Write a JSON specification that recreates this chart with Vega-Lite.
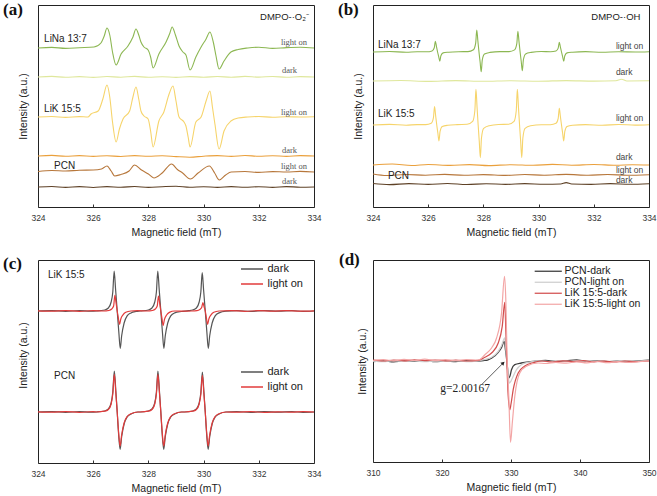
{
  "$schema": "https://vega.github.io/schema/vega-lite/v6.json",
  "background": "white",
  "padding": {"left": 2, "top": 0, "right": 2, "bottom": 2},
  "columns": 2,
  "bounds": "flush",
  "spacing": {"row": 53, "column": 59},
  "resolve": {"scale": {"color": "independent", "strokeWidth": "independent"}, "legend": {"color": "independent"}},
  "config": {
    "font": "Liberation Sans",
    "view": {"stroke": "#222", "strokeWidth": 1},
    "title": {"font": "Liberation Serif", "fontSize": 17, "fontWeight": "bold", "anchor": "start", "frame": "group", "offset": 0, "baseline": "alphabetic", "color": "#111"},
    "axisX": {"domain": false, "grid": false, "tickSize": -3, "tickColor": "#333", "labelPadding": 9, "labelFontSize": 8.5, "labelColor": "#333", "labelFlush": false, "labelOverlap": false, "titleFontSize": 10.5, "titleFontWeight": "normal", "titleColor": "#222", "titlePadding": 6, "labelFont": "Liberation Sans", "titleFont": "Liberation Sans"},
    "axisY": {"domain": false, "grid": false, "ticks": false, "labels": false, "titleFontSize": 10.5, "titleFontWeight": "normal", "titleColor": "#222", "titlePadding": 10, "titleFont": "Liberation Sans"},
    "legend": {"labelFont": "Liberation Sans", "labelColor": "#222"}
  },
  "datasets": {
    "a": [
      {"s":"LiNa on","x":324,"y":159},{"s":"LiNa on","x":324.5,"y":159.6},{"s":"LiNa on","x":325,"y":158.6},{"s":"LiNa on","x":325.5,"y":159.3},{"s":"LiNa on","x":326.03,"y":160},{"s":"LiNa on","x":326.28,"y":164},{"s":"LiNa on","x":326.4,"y":171},{"s":"LiNa on","x":326.5,"y":179},{"s":"LiNa on","x":326.6,"y":172},{"s":"LiNa on","x":326.7,"y":155},{"s":"LiNa on","x":326.83,"y":142},{"s":"LiNa on","x":327.01,"y":153},{"s":"LiNa on","x":327.26,"y":161},{"s":"LiNa on","x":327.44,"y":170},{"s":"LiNa on","x":327.55,"y":178},{"s":"LiNa on","x":327.65,"y":172},{"s":"LiNa on","x":327.73,"y":165},{"s":"LiNa on","x":327.84,"y":160},{"s":"LiNa on","x":327.99,"y":157},{"s":"LiNa on","x":328.08,"y":150},{"s":"LiNa on","x":328.17,"y":139},{"s":"LiNa on","x":328.38,"y":153},{"s":"LiNa on","x":328.64,"y":165},{"s":"LiNa on","x":328.78,"y":174},{"s":"LiNa on","x":328.86,"y":180},{"s":"LiNa on","x":328.98,"y":172},{"s":"LiNa on","x":329.11,"y":161},{"s":"LiNa on","x":329.25,"y":155},{"s":"LiNa on","x":329.36,"y":152},{"s":"LiNa on","x":329.51,"y":137},{"s":"LiNa on","x":329.72,"y":150},{"s":"LiNa on","x":329.91,"y":160},{"s":"LiNa on","x":330.09,"y":168},{"s":"LiNa on","x":330.23,"y":175},{"s":"LiNa on","x":330.35,"y":165},{"s":"LiNa on","x":330.45,"y":151},{"s":"LiNa on","x":330.56,"y":138},{"s":"LiNa on","x":330.74,"y":146},{"s":"LiNa on","x":330.99,"y":155},{"s":"LiNa on","x":331.25,"y":157.5},{"s":"LiNa on","x":331.6,"y":159},{"s":"LiNa on","x":332,"y":159.8},{"s":"LiNa on","x":332.5,"y":158.6},{"s":"LiNa on","x":333,"y":159.4},{"s":"LiNa on","x":333.5,"y":159.8},{"s":"LiNa on","x":334,"y":159},
      {"s":"LiNa dark","x":324,"y":130},{"s":"LiNa dark","x":324.5,"y":130.6},{"s":"LiNa dark","x":325,"y":129.7},{"s":"LiNa dark","x":325.5,"y":130.4},{"s":"LiNa dark","x":326,"y":129.6},{"s":"LiNa dark","x":326.5,"y":130.5},{"s":"LiNa dark","x":327,"y":129.8},{"s":"LiNa dark","x":327.5,"y":130.6},{"s":"LiNa dark","x":328,"y":129.7},{"s":"LiNa dark","x":328.5,"y":130.3},{"s":"LiNa dark","x":329,"y":129.6},{"s":"LiNa dark","x":329.5,"y":130.4},{"s":"LiNa dark","x":330,"y":129.8},{"s":"LiNa dark","x":330.5,"y":130.5},{"s":"LiNa dark","x":331,"y":129.7},{"s":"LiNa dark","x":331.5,"y":130.6},{"s":"LiNa dark","x":332,"y":129.9},{"s":"LiNa dark","x":332.5,"y":130.5},{"s":"LiNa dark","x":333,"y":129.7},{"s":"LiNa dark","x":333.5,"y":130.4},{"s":"LiNa dark","x":334,"y":130},
      {"s":"LiK on","x":324,"y":90},{"s":"LiK on","x":324.5,"y":90.5},{"s":"LiK on","x":325,"y":89.6},{"s":"LiK on","x":325.5,"y":90.4},{"s":"LiK on","x":325.81,"y":90},{"s":"LiK on","x":325.92,"y":93},{"s":"LiK on","x":326.18,"y":96},{"s":"LiK on","x":326.35,"y":108},{"s":"LiK on","x":326.5,"y":122},{"s":"LiK on","x":326.6,"y":110},{"s":"LiK on","x":326.7,"y":85},{"s":"LiK on","x":326.83,"y":65},{"s":"LiK on","x":326.95,"y":78},{"s":"LiK on","x":327.08,"y":88},{"s":"LiK on","x":327.32,"y":96},{"s":"LiK on","x":327.44,"y":110},{"s":"LiK on","x":327.55,"y":120},{"s":"LiK on","x":327.65,"y":108},{"s":"LiK on","x":327.73,"y":96},{"s":"LiK on","x":327.84,"y":91},{"s":"LiK on","x":327.99,"y":88},{"s":"LiK on","x":328.08,"y":76},{"s":"LiK on","x":328.17,"y":60},{"s":"LiK on","x":328.38,"y":86},{"s":"LiK on","x":328.56,"y":95},{"s":"LiK on","x":328.75,"y":113},{"s":"LiK on","x":328.89,"y":121},{"s":"LiK on","x":329.0,"y":106},{"s":"LiK on","x":329.11,"y":90},{"s":"LiK on","x":329.29,"y":85},{"s":"LiK on","x":329.36,"y":81},{"s":"LiK on","x":329.44,"y":70},{"s":"LiK on","x":329.51,"y":60},{"s":"LiK on","x":329.72,"y":85},{"s":"LiK on","x":329.91,"y":90},{"s":"LiK on","x":330.09,"y":106},{"s":"LiK on","x":330.23,"y":116},{"s":"LiK on","x":330.32,"y":100},{"s":"LiK on","x":330.41,"y":83},{"s":"LiK on","x":330.56,"y":58},{"s":"LiK on","x":330.74,"y":76},{"s":"LiK on","x":330.99,"y":86},{"s":"LiK on","x":331.25,"y":89},{"s":"LiK on","x":331.6,"y":90},{"s":"LiK on","x":332,"y":90.5},{"s":"LiK on","x":332.5,"y":89.7},{"s":"LiK on","x":333,"y":90.3},{"s":"LiK on","x":333.5,"y":90},{"s":"LiK on","x":334,"y":90.2},
      {"s":"LiK dark","x":324,"y":51},{"s":"LiK dark","x":324.5,"y":51.6},{"s":"LiK dark","x":325,"y":50.7},{"s":"LiK dark","x":325.5,"y":51.4},{"s":"LiK dark","x":326,"y":50.6},{"s":"LiK dark","x":326.5,"y":51.3},{"s":"LiK dark","x":327,"y":50.5},{"s":"LiK dark","x":327.5,"y":51.4},{"s":"LiK dark","x":328,"y":50.7},{"s":"LiK dark","x":328.5,"y":51.2},{"s":"LiK dark","x":329,"y":50.4},{"s":"LiK dark","x":329.5,"y":49.8},{"s":"LiK dark","x":330,"y":50.8},{"s":"LiK dark","x":330.5,"y":51.4},{"s":"LiK dark","x":331,"y":50.6},{"s":"LiK dark","x":331.5,"y":51.5},{"s":"LiK dark","x":332,"y":50.7},{"s":"LiK dark","x":332.5,"y":51.3},{"s":"LiK dark","x":333,"y":50.6},{"s":"LiK dark","x":333.5,"y":51.4},{"s":"LiK dark","x":334,"y":51},
      {"s":"PCN on","x":324,"y":35.5},{"s":"PCN on","x":324.5,"y":36.5},{"s":"PCN on","x":325,"y":36},{"s":"PCN on","x":325.5,"y":36.8},{"s":"PCN on","x":326,"y":37},{"s":"PCN on","x":326.3,"y":38},{"s":"PCN on","x":326.5,"y":41},{"s":"PCN on","x":326.65,"y":36},{"s":"PCN on","x":326.78,"y":31},{"s":"PCN on","x":327.0,"y":32.5},{"s":"PCN on","x":327.3,"y":36},{"s":"PCN on","x":327.5,"y":42},{"s":"PCN on","x":327.75,"y":37},{"s":"PCN on","x":328.0,"y":33},{"s":"PCN on","x":328.2,"y":29},{"s":"PCN on","x":328.5,"y":34},{"s":"PCN on","x":328.84,"y":43},{"s":"PCN on","x":329.05,"y":37.5},{"s":"PCN on","x":329.24,"y":34},{"s":"PCN on","x":329.52,"y":28},{"s":"PCN on","x":329.8,"y":34},{"s":"PCN on","x":330.21,"y":41},{"s":"PCN on","x":330.4,"y":34},{"s":"PCN on","x":330.57,"y":27},{"s":"PCN on","x":330.8,"y":32},{"s":"PCN on","x":331.0,"y":35},{"s":"PCN on","x":331.5,"y":35.5},{"s":"PCN on","x":332,"y":34.6},{"s":"PCN on","x":332.5,"y":35.4},{"s":"PCN on","x":333,"y":35},{"s":"PCN on","x":333.5,"y":35.6},{"s":"PCN on","x":334,"y":35},
      {"s":"PCN dark","x":324,"y":20},{"s":"PCN dark","x":324.5,"y":20.5},{"s":"PCN dark","x":325,"y":19.6},{"s":"PCN dark","x":325.5,"y":20.4},{"s":"PCN dark","x":326,"y":19.5},{"s":"PCN dark","x":326.5,"y":20.4},{"s":"PCN dark","x":327,"y":19.7},{"s":"PCN dark","x":327.5,"y":20.5},{"s":"PCN dark","x":328,"y":19.6},{"s":"PCN dark","x":328.5,"y":20.3},{"s":"PCN dark","x":329,"y":20.8},{"s":"PCN dark","x":329.5,"y":19.8},{"s":"PCN dark","x":330,"y":20.3},{"s":"PCN dark","x":330.5,"y":19.6},{"s":"PCN dark","x":331,"y":20.4},{"s":"PCN dark","x":331.5,"y":19.7},{"s":"PCN dark","x":332,"y":20.3},{"s":"PCN dark","x":332.5,"y":19.6},{"s":"PCN dark","x":333,"y":20.4},{"s":"PCN dark","x":333.5,"y":19.8},{"s":"PCN dark","x":334,"y":20}
    ],
    "b": [
      {"s":"LiNa on","x":324,"y":155},{"s":"LiNa on","x":324.6,"y":155.5},{"s":"LiNa on","x":325.2,"y":154.7},{"s":"LiNa on","x":325.6,"y":155.3},{"s":"LiNa on","x":325.94,"y":155.2},{"s":"LiNa on","x":326.14,"y":156.1},{"s":"LiNa on","x":326.22,"y":159.3},{"s":"LiNa on","x":326.26,"y":165.7},{"s":"LiNa on","x":326.30,"y":160.4},{"s":"LiNa on","x":326.34,"y":155},{"s":"LiNa on","x":326.38,"y":150.4},{"s":"LiNa on","x":326.42,"y":145.7},{"s":"LiNa on","x":326.46,"y":151.3},{"s":"LiNa on","x":326.54,"y":154.1},{"s":"LiNa on","x":326.74,"y":154.8},{"s":"LiNa on","x":327.1,"y":155.3},{"s":"LiNa on","x":327.44,"y":155.4},{"s":"LiNa on","x":327.64,"y":157.2},{"s":"LiNa on","x":327.72,"y":163.8},{"s":"LiNa on","x":327.76,"y":177},{"s":"LiNa on","x":327.80,"y":166},{"s":"LiNa on","x":327.84,"y":155},{"s":"LiNa on","x":327.88,"y":145.2},{"s":"LiNa on","x":327.92,"y":135.3},{"s":"LiNa on","x":327.96,"y":147.1},{"s":"LiNa on","x":328.04,"y":153},{"s":"LiNa on","x":328.24,"y":154.6},{"s":"LiNa on","x":328.6,"y":155.4},{"s":"LiNa on","x":328.93,"y":155.4},{"s":"LiNa on","x":329.13,"y":157.1},{"s":"LiNa on","x":329.21,"y":163.3},{"s":"LiNa on","x":329.25,"y":175.7},{"s":"LiNa on","x":329.29,"y":165.4},{"s":"LiNa on","x":329.33,"y":155},{"s":"LiNa on","x":329.37,"y":145.7},{"s":"LiNa on","x":329.41,"y":136.3},{"s":"LiNa on","x":329.45,"y":147.5},{"s":"LiNa on","x":329.53,"y":153.1},{"s":"LiNa on","x":329.73,"y":154.6},{"s":"LiNa on","x":330.1,"y":155.5},{"s":"LiNa on","x":330.43,"y":155.2},{"s":"LiNa on","x":330.63,"y":156},{"s":"LiNa on","x":330.71,"y":158.9},{"s":"LiNa on","x":330.75,"y":164.7},{"s":"LiNa on","x":330.79,"y":159.9},{"s":"LiNa on","x":330.83,"y":155},{"s":"LiNa on","x":330.87,"y":150.4},{"s":"LiNa on","x":330.91,"y":145.7},{"s":"LiNa on","x":330.95,"y":151.3},{"s":"LiNa on","x":331.03,"y":154.1},{"s":"LiNa on","x":331.23,"y":154.8},{"s":"LiNa on","x":331.7,"y":155.4},{"s":"LiNa on","x":332.3,"y":154.7},{"s":"LiNa on","x":332.9,"y":155.3},{"s":"LiNa on","x":333.5,"y":155},{"s":"LiNa on","x":334,"y":155.3},
      {"s":"LiNa dark","x":324,"y":126},{"s":"LiNa dark","x":325,"y":126.5},{"s":"LiNa dark","x":326,"y":125.6},{"s":"LiNa dark","x":327,"y":126.4},{"s":"LiNa dark","x":328,"y":125.7},{"s":"LiNa dark","x":329,"y":126.3},{"s":"LiNa dark","x":330,"y":125.8},{"s":"LiNa dark","x":331,"y":126.4},{"s":"LiNa dark","x":332,"y":125.9},{"s":"LiNa dark","x":332.8,"y":126.3},{"s":"LiNa dark","x":333,"y":127.8},{"s":"LiNa dark","x":333.2,"y":126},{"s":"LiNa dark","x":334,"y":126.2},
      {"s":"LiK on","x":324,"y":82},{"s":"LiK on","x":324.6,"y":82.6},{"s":"LiK on","x":325.2,"y":81.8},{"s":"LiK on","x":325.6,"y":82.4},{"s":"LiK on","x":325.91,"y":82.4},{"s":"LiK on","x":326.11,"y":83.8},{"s":"LiK on","x":326.19,"y":89.4},{"s":"LiK on","x":326.23,"y":100.4},{"s":"LiK on","x":326.27,"y":91.2},{"s":"LiK on","x":326.31,"y":82},{"s":"LiK on","x":326.35,"y":74},{"s":"LiK on","x":326.39,"y":66},{"s":"LiK on","x":326.43,"y":75.6},{"s":"LiK on","x":326.51,"y":80.4},{"s":"LiK on","x":326.71,"y":81.7},{"s":"LiK on","x":327.05,"y":82.4},{"s":"LiK on","x":327.41,"y":82.7},{"s":"LiK on","x":327.61,"y":85.6},{"s":"LiK on","x":327.69,"y":96.3},{"s":"LiK on","x":327.73,"y":117.7},{"s":"LiK on","x":327.77,"y":99.9},{"s":"LiK on","x":327.81,"y":82},{"s":"LiK on","x":327.85,"y":65.7},{"s":"LiK on","x":327.89,"y":49.4},{"s":"LiK on","x":327.93,"y":69},{"s":"LiK on","x":328.01,"y":78.7},{"s":"LiK on","x":328.21,"y":81.3},{"s":"LiK on","x":328.55,"y":82.5},{"s":"LiK on","x":328.91,"y":82.7},{"s":"LiK on","x":329.11,"y":85.6},{"s":"LiK on","x":329.19,"y":96.3},{"s":"LiK on","x":329.23,"y":117.7},{"s":"LiK on","x":329.27,"y":99.9},{"s":"LiK on","x":329.31,"y":82},{"s":"LiK on","x":329.35,"y":65.7},{"s":"LiK on","x":329.39,"y":49.4},{"s":"LiK on","x":329.43,"y":69},{"s":"LiK on","x":329.51,"y":78.7},{"s":"LiK on","x":329.71,"y":81.3},{"s":"LiK on","x":330.1,"y":82.3},{"s":"LiK on","x":330.43,"y":82.3},{"s":"LiK on","x":330.63,"y":83.7},{"s":"LiK on","x":330.71,"y":88.7},{"s":"LiK on","x":330.75,"y":98.7},{"s":"LiK on","x":330.79,"y":90.4},{"s":"LiK on","x":330.83,"y":82},{"s":"LiK on","x":330.87,"y":74},{"s":"LiK on","x":330.91,"y":66},{"s":"LiK on","x":330.95,"y":75.6},{"s":"LiK on","x":331.03,"y":80.4},{"s":"LiK on","x":331.23,"y":81.7},{"s":"LiK on","x":331.7,"y":82.4},{"s":"LiK on","x":332.3,"y":81.7},{"s":"LiK on","x":332.9,"y":82.5},{"s":"LiK on","x":333.5,"y":81.9},{"s":"LiK on","x":334,"y":82.3},
      {"s":"LiK dark","x":324,"y":42},{"s":"LiK dark","x":324.7,"y":43},{"s":"LiK dark","x":325.4,"y":41.5},{"s":"LiK dark","x":326,"y":42.5},{"s":"LiK dark","x":326.8,"y":41.6},{"s":"LiK dark","x":327.5,"y":42.4},{"s":"LiK dark","x":328.2,"y":41.4},{"s":"LiK dark","x":329,"y":42.3},{"s":"LiK dark","x":329.8,"y":41.7},{"s":"LiK dark","x":330.5,"y":42.6},{"s":"LiK dark","x":331.2,"y":41.8},{"s":"LiK dark","x":332,"y":42.5},{"s":"LiK dark","x":332.8,"y":41.7},{"s":"LiK dark","x":333.4,"y":42.3},{"s":"LiK dark","x":334,"y":42},
      {"s":"PCN on","x":324,"y":33},{"s":"PCN on","x":324.5,"y":31.5},{"s":"PCN on","x":325.2,"y":32.5},{"s":"PCN on","x":325.9,"y":31.8},{"s":"PCN on","x":326.6,"y":32.6},{"s":"PCN on","x":327.3,"y":31.7},{"s":"PCN on","x":328,"y":32.4},{"s":"PCN on","x":328.8,"y":31.6},{"s":"PCN on","x":329.5,"y":32.5},{"s":"PCN on","x":330.2,"y":31.8},{"s":"PCN on","x":331,"y":32.6},{"s":"PCN on","x":331.8,"y":31.7},{"s":"PCN on","x":332.5,"y":32.5},{"s":"PCN on","x":333.2,"y":31.8},{"s":"PCN on","x":334,"y":32.3},
      {"s":"PCN dark","x":324,"y":23.5},{"s":"PCN dark","x":324.6,"y":22.4},{"s":"PCN dark","x":325.3,"y":23.4},{"s":"PCN dark","x":326,"y":22.6},{"s":"PCN dark","x":326.7,"y":23.5},{"s":"PCN dark","x":327.4,"y":22.5},{"s":"PCN dark","x":328.1,"y":23.3},{"s":"PCN dark","x":328.8,"y":22.6},{"s":"PCN dark","x":329.5,"y":23.4},{"s":"PCN dark","x":330.2,"y":22.7},{"s":"PCN dark","x":330.8,"y":23},{"s":"PCN dark","x":331,"y":24.4},{"s":"PCN dark","x":331.2,"y":23},{"s":"PCN dark","x":331.9,"y":22.6},{"s":"PCN dark","x":332.6,"y":23.4},{"s":"PCN dark","x":333.3,"y":22.7},{"s":"PCN dark","x":334,"y":23.2}
    ],
    "cu": [
      {"s":"dark","x":324,"y":152},{"s":"dark","x":324.5,"y":152.4},{"s":"dark","x":325,"y":151.7},{"s":"dark","x":325.5,"y":152.3},{"s":"dark","x":325.9,"y":151.8},
      {"s":"dark","x":326.12,"y":152},{"s":"dark","x":326.42,"y":153},{"s":"dark","x":326.55,"y":155},{"s":"dark","x":326.65,"y":161},{"s":"dark","x":326.71,"y":171},{"s":"dark","x":326.76,"y":192},{"s":"dark","x":326.81,"y":174},{"s":"dark","x":326.87,"y":152},{"s":"dark","x":326.93,"y":130.3},{"s":"dark","x":326.98,"y":114.6},{"s":"dark","x":327.03,"y":127},{"s":"dark","x":327.12,"y":140},{"s":"dark","x":327.23,"y":147.1},{"s":"dark","x":327.37,"y":150.1},{"s":"dark","x":327.55,"y":151.5},
      {"s":"dark","x":327.70,"y":152},{"s":"dark","x":328.0,"y":153},{"s":"dark","x":328.13,"y":155},{"s":"dark","x":328.23,"y":161},{"s":"dark","x":328.29,"y":171},{"s":"dark","x":328.34,"y":192},{"s":"dark","x":328.39,"y":174},{"s":"dark","x":328.45,"y":152},{"s":"dark","x":328.51,"y":130.3},{"s":"dark","x":328.56,"y":114.6},{"s":"dark","x":328.61,"y":127},{"s":"dark","x":328.70,"y":140},{"s":"dark","x":328.81,"y":147.1},{"s":"dark","x":328.95,"y":150.1},{"s":"dark","x":329.2,"y":151.5},
      {"s":"dark","x":329.45,"y":152.3},{"s":"dark","x":329.6,"y":153},{"s":"dark","x":329.74,"y":155},{"s":"dark","x":329.84,"y":161},{"s":"dark","x":329.90,"y":171},{"s":"dark","x":329.95,"y":190.3},{"s":"dark","x":330.0,"y":173},{"s":"dark","x":330.06,"y":152},{"s":"dark","x":330.12,"y":130.3},{"s":"dark","x":330.17,"y":114.6},{"s":"dark","x":330.22,"y":127},{"s":"dark","x":330.31,"y":140},{"s":"dark","x":330.42,"y":147.1},{"s":"dark","x":330.56,"y":150.1},{"s":"dark","x":330.81,"y":151.8},
      {"s":"dark","x":331.2,"y":152.3},{"s":"dark","x":331.7,"y":151.7},{"s":"dark","x":332.2,"y":152.4},{"s":"dark","x":332.7,"y":151.8},{"s":"dark","x":333.2,"y":152.3},{"s":"dark","x":333.6,"y":151.7},{"s":"dark","x":334,"y":152},
      {"s":"light on","x":324,"y":152.2},{"s":"light on","x":324.5,"y":151.8},{"s":"light on","x":325,"y":152.4},{"s":"light on","x":325.5,"y":151.7},{"s":"light on","x":326,"y":152.3},
      {"s":"light on","x":326.37,"y":152},{"s":"light on","x":326.57,"y":152.5},{"s":"light on","x":326.67,"y":154},{"s":"light on","x":326.74,"y":157},{"s":"light on","x":326.785,"y":167.6},{"s":"light on","x":326.83,"y":159.8},{"s":"light on","x":326.87,"y":152},{"s":"light on","x":326.91,"y":145.3},{"s":"light on","x":326.955,"y":138.6},{"s":"light on","x":327.0,"y":144},{"s":"light on","x":327.08,"y":148.2},{"s":"light on","x":327.18,"y":150.7},{"s":"light on","x":327.37,"y":152},
      {"s":"light on","x":327.6,"y":152.3},{"s":"light on","x":327.95,"y":152},{"s":"light on","x":328.15,"y":152.5},{"s":"light on","x":328.25,"y":154},{"s":"light on","x":328.32,"y":157},{"s":"light on","x":328.365,"y":167},{"s":"light on","x":328.41,"y":159.5},{"s":"light on","x":328.45,"y":152},{"s":"light on","x":328.49,"y":144.8},{"s":"light on","x":328.535,"y":137.6},{"s":"light on","x":328.58,"y":143.4},{"s":"light on","x":328.66,"y":148},{"s":"light on","x":328.76,"y":150.6},{"s":"light on","x":328.95,"y":152},
      {"s":"light on","x":329.2,"y":151.8},{"s":"light on","x":329.56,"y":152},{"s":"light on","x":329.76,"y":152.4},{"s":"light on","x":329.86,"y":153.5},{"s":"light on","x":329.93,"y":155.5},{"s":"light on","x":329.975,"y":160.3},{"s":"light on","x":330.02,"y":156},{"s":"light on","x":330.06,"y":152},{"s":"light on","x":330.10,"y":145.3},{"s":"light on","x":330.145,"y":138.6},{"s":"light on","x":330.19,"y":144},{"s":"light on","x":330.27,"y":148.2},{"s":"light on","x":330.37,"y":150.7},{"s":"light on","x":330.56,"y":152},
      {"s":"light on","x":331,"y":152.4},{"s":"light on","x":331.5,"y":151.7},{"s":"light on","x":332,"y":152.3},{"s":"light on","x":332.5,"y":151.8},{"s":"light on","x":333,"y":152.4},{"s":"light on","x":333.5,"y":151.8},{"s":"light on","x":334,"y":152.1}
    ],
    "cl": [
      {"s":"dark","x":324,"y":51},{"s":"dark","x":324.5,"y":51.4},{"s":"dark","x":325,"y":50.7},{"s":"dark","x":325.5,"y":51.3},{"s":"dark","x":325.9,"y":50.8},
      {"s":"dark","x":326.12,"y":51},{"s":"dark","x":326.42,"y":52},{"s":"dark","x":326.55,"y":54},{"s":"dark","x":326.65,"y":60},{"s":"dark","x":326.71,"y":71},{"s":"dark","x":326.765,"y":92},{"s":"dark","x":326.82,"y":72},{"s":"dark","x":326.87,"y":51},{"s":"dark","x":326.92,"y":29},{"s":"dark","x":326.975,"y":13.6},{"s":"dark","x":327.03,"y":26},{"s":"dark","x":327.12,"y":39},{"s":"dark","x":327.23,"y":46},{"s":"dark","x":327.37,"y":49},{"s":"dark","x":327.62,"y":51},
      {"s":"dark","x":327.70,"y":51},{"s":"dark","x":328.0,"y":52},{"s":"dark","x":328.13,"y":54},{"s":"dark","x":328.23,"y":60},{"s":"dark","x":328.29,"y":71},{"s":"dark","x":328.345,"y":92},{"s":"dark","x":328.4,"y":72},{"s":"dark","x":328.45,"y":51},{"s":"dark","x":328.5,"y":29},{"s":"dark","x":328.555,"y":13.6},{"s":"dark","x":328.61,"y":26},{"s":"dark","x":328.70,"y":39},{"s":"dark","x":328.81,"y":46},{"s":"dark","x":328.95,"y":49},{"s":"dark","x":329.2,"y":51},
      {"s":"dark","x":329.31,"y":51},{"s":"dark","x":329.61,"y":52},{"s":"dark","x":329.74,"y":54},{"s":"dark","x":329.84,"y":60},{"s":"dark","x":329.90,"y":70.5},{"s":"dark","x":329.955,"y":91},{"s":"dark","x":330.01,"y":71.5},{"s":"dark","x":330.06,"y":51},{"s":"dark","x":330.11,"y":29},{"s":"dark","x":330.165,"y":13.6},{"s":"dark","x":330.22,"y":26},{"s":"dark","x":330.31,"y":39},{"s":"dark","x":330.42,"y":46},{"s":"dark","x":330.56,"y":49},{"s":"dark","x":330.81,"y":51},
      {"s":"dark","x":331.2,"y":51.3},{"s":"dark","x":331.7,"y":50.7},{"s":"dark","x":332.2,"y":51.4},{"s":"dark","x":332.7,"y":50.8},{"s":"dark","x":333.2,"y":51.3},{"s":"dark","x":333.6,"y":50.7},{"s":"dark","x":334,"y":51},
      {"s":"light on","x":324,"y":51.2},{"s":"light on","x":324.5,"y":50.8},{"s":"light on","x":325,"y":51.4},{"s":"light on","x":325.5,"y":50.7},{"s":"light on","x":326,"y":51.3},
      {"s":"light on","x":326.12,"y":51},{"s":"light on","x":326.42,"y":51.8},{"s":"light on","x":326.55,"y":53.5},{"s":"light on","x":326.65,"y":59},{"s":"light on","x":326.71,"y":69},{"s":"light on","x":326.765,"y":88.6},{"s":"light on","x":326.82,"y":70},{"s":"light on","x":326.87,"y":51},{"s":"light on","x":326.92,"y":31},{"s":"light on","x":326.975,"y":17},{"s":"light on","x":327.03,"y":28},{"s":"light on","x":327.12,"y":40},{"s":"light on","x":327.23,"y":46.5},{"s":"light on","x":327.37,"y":49.3},{"s":"light on","x":327.62,"y":51},
      {"s":"light on","x":327.70,"y":51},{"s":"light on","x":328.0,"y":51.8},{"s":"light on","x":328.13,"y":53.5},{"s":"light on","x":328.23,"y":59},{"s":"light on","x":328.29,"y":69},{"s":"light on","x":328.345,"y":88.6},{"s":"light on","x":328.4,"y":70},{"s":"light on","x":328.45,"y":51},{"s":"light on","x":328.5,"y":31},{"s":"light on","x":328.555,"y":17},{"s":"light on","x":328.61,"y":28},{"s":"light on","x":328.70,"y":40},{"s":"light on","x":328.81,"y":46.5},{"s":"light on","x":328.95,"y":49.3},{"s":"light on","x":329.2,"y":51},
      {"s":"light on","x":329.31,"y":51},{"s":"light on","x":329.61,"y":51.8},{"s":"light on","x":329.74,"y":53.5},{"s":"light on","x":329.84,"y":59},{"s":"light on","x":329.90,"y":68.5},{"s":"light on","x":329.955,"y":87.6},{"s":"light on","x":330.01,"y":69.5},{"s":"light on","x":330.06,"y":51},{"s":"light on","x":330.11,"y":31},{"s":"light on","x":330.165,"y":17},{"s":"light on","x":330.22,"y":28},{"s":"light on","x":330.31,"y":40},{"s":"light on","x":330.42,"y":46.5},{"s":"light on","x":330.56,"y":49.3},{"s":"light on","x":330.81,"y":51},
      {"s":"light on","x":331.2,"y":50.8},{"s":"light on","x":331.7,"y":51.3},{"s":"light on","x":332.2,"y":50.7},{"s":"light on","x":332.7,"y":51.2},{"s":"light on","x":333.2,"y":50.8},{"s":"light on","x":333.6,"y":51.3},{"s":"light on","x":334,"y":51}
    ],
    "d": [
      {"s":"PCN-dark","x":310,"y":100.5},{"s":"PCN-dark","x":311.5,"y":101.2},{"s":"PCN-dark","x":313,"y":100.2},{"s":"PCN-dark","x":314.5,"y":101},{"s":"PCN-dark","x":316,"y":100.6},{"s":"PCN-dark","x":317.5,"y":101.4},{"s":"PCN-dark","x":319,"y":100.3},{"s":"PCN-dark","x":320.5,"y":101},{"s":"PCN-dark","x":322,"y":100.5},{"s":"PCN-dark","x":323.5,"y":101.3},{"s":"PCN-dark","x":325,"y":100.8},{"s":"PCN-dark","x":326,"y":101.5},{"s":"PCN-dark","x":326.6,"y":102},{"s":"PCN-dark","x":327.18,"y":103.7},{"s":"PCN-dark","x":328.15,"y":109.7},{"s":"PCN-dark","x":328.6,"y":114},{"s":"PCN-dark","x":329.02,"y":120.7},{"s":"PCN-dark","x":329.2,"y":112},{"s":"PCN-dark","x":329.4,"y":100.7},{"s":"PCN-dark","x":329.55,"y":90},{"s":"PCN-dark","x":329.68,"y":84},{"s":"PCN-dark","x":329.85,"y":86},{"s":"PCN-dark","x":330.07,"y":92.3},{"s":"PCN-dark","x":330.55,"y":97.3},{"s":"PCN-dark","x":331.5,"y":99},{"s":"PCN-dark","x":332.5,"y":100.2},{"s":"PCN-dark","x":333.5,"y":100.8},{"s":"PCN-dark","x":335,"y":101.5},{"s":"PCN-dark","x":336.5,"y":100.6},{"s":"PCN-dark","x":338,"y":101.2},{"s":"PCN-dark","x":339.5,"y":102},{"s":"PCN-dark","x":341,"y":100.6},{"s":"PCN-dark","x":342.5,"y":101.3},{"s":"PCN-dark","x":344,"y":100.4},{"s":"PCN-dark","x":345.5,"y":101},{"s":"PCN-dark","x":347,"y":100.5},{"s":"PCN-dark","x":348.5,"y":101.2},{"s":"PCN-dark","x":350,"y":101.8},
      {"s":"PCN-light on","x":310,"y":101},{"s":"PCN-light on","x":311.5,"y":100.4},{"s":"PCN-light on","x":313,"y":101.4},{"s":"PCN-light on","x":314.5,"y":100.6},{"s":"PCN-light on","x":316,"y":101.2},{"s":"PCN-light on","x":317.5,"y":100.3},{"s":"PCN-light on","x":319,"y":101},{"s":"PCN-light on","x":320.5,"y":100.6},{"s":"PCN-light on","x":322,"y":101.4},{"s":"PCN-light on","x":323.5,"y":100.5},{"s":"PCN-light on","x":325,"y":101},{"s":"PCN-light on","x":326.2,"y":102.5},{"s":"PCN-light on","x":327.18,"y":104.7},{"s":"PCN-light on","x":328.15,"y":110.7},{"s":"PCN-light on","x":328.6,"y":116},{"s":"PCN-light on","x":329.1,"y":124},{"s":"PCN-light on","x":329.25,"y":113},{"s":"PCN-light on","x":329.42,"y":100.7},{"s":"PCN-light on","x":329.58,"y":88},{"s":"PCN-light on","x":329.74,"y":79},{"s":"PCN-light on","x":330,"y":81},{"s":"PCN-light on","x":330.32,"y":85.7},{"s":"PCN-light on","x":330.8,"y":92.3},{"s":"PCN-light on","x":331.5,"y":97.3},{"s":"PCN-light on","x":332.7,"y":100},{"s":"PCN-light on","x":334,"y":101.2},{"s":"PCN-light on","x":335.5,"y":100.4},{"s":"PCN-light on","x":337,"y":101.3},{"s":"PCN-light on","x":338.5,"y":100.7},{"s":"PCN-light on","x":340,"y":101.5},{"s":"PCN-light on","x":341.5,"y":100.5},{"s":"PCN-light on","x":343,"y":101.2},{"s":"PCN-light on","x":344.5,"y":100.6},{"s":"PCN-light on","x":346,"y":101.3},{"s":"PCN-light on","x":347.5,"y":100.5},{"s":"PCN-light on","x":349,"y":101},{"s":"PCN-light on","x":350,"y":101.5},
      {"s":"LiK 15:5-dark","x":310,"y":101.8},{"s":"LiK 15:5-dark","x":311.5,"y":101},{"s":"LiK 15:5-dark","x":313,"y":102},{"s":"LiK 15:5-dark","x":314.5,"y":101.2},{"s":"LiK 15:5-dark","x":316,"y":102.2},{"s":"LiK 15:5-dark","x":317.5,"y":101.3},{"s":"LiK 15:5-dark","x":319,"y":102},{"s":"LiK 15:5-dark","x":320.5,"y":101.1},{"s":"LiK 15:5-dark","x":322,"y":101.8},{"s":"LiK 15:5-dark","x":323.5,"y":101},{"s":"LiK 15:5-dark","x":325.26,"y":101.7},{"s":"LiK 15:5-dark","x":326.22,"y":104.7},{"s":"LiK 15:5-dark","x":327.18,"y":109},{"s":"LiK 15:5-dark","x":328.15,"y":119},{"s":"LiK 15:5-dark","x":328.73,"y":135.7},{"s":"LiK 15:5-dark","x":329.1,"y":159.7},{"s":"LiK 15:5-dark","x":329.25,"y":132},{"s":"LiK 15:5-dark","x":329.4,"y":100.7},{"s":"LiK 15:5-dark","x":329.55,"y":72},{"s":"LiK 15:5-dark","x":329.83,"y":52.3},{"s":"LiK 15:5-dark","x":330,"y":58},{"s":"LiK 15:5-dark","x":330.32,"y":72.3},{"s":"LiK 15:5-dark","x":331.04,"y":89},{"s":"LiK 15:5-dark","x":331.95,"y":95.7},{"s":"LiK 15:5-dark","x":333.4,"y":99.7},{"s":"LiK 15:5-dark","x":334.5,"y":101},{"s":"LiK 15:5-dark","x":336,"y":100},{"s":"LiK 15:5-dark","x":337.5,"y":101.2},{"s":"LiK 15:5-dark","x":339,"y":100.4},{"s":"LiK 15:5-dark","x":340.5,"y":101.3},{"s":"LiK 15:5-dark","x":342,"y":100.2},{"s":"LiK 15:5-dark","x":343.5,"y":100.9},{"s":"LiK 15:5-dark","x":345,"y":100},{"s":"LiK 15:5-dark","x":346.5,"y":101},{"s":"LiK 15:5-dark","x":348,"y":100.4},{"s":"LiK 15:5-dark","x":350,"y":101},
      {"s":"LiK 15:5-light on","x":310,"y":101.5},{"s":"LiK 15:5-light on","x":311.5,"y":102.3},{"s":"LiK 15:5-light on","x":313,"y":101.2},{"s":"LiK 15:5-light on","x":314.5,"y":102.6},{"s":"LiK 15:5-light on","x":316,"y":101.5},{"s":"LiK 15:5-light on","x":317.5,"y":102.8},{"s":"LiK 15:5-light on","x":319,"y":101.4},{"s":"LiK 15:5-light on","x":320.5,"y":102.4},{"s":"LiK 15:5-light on","x":322,"y":101.3},{"s":"LiK 15:5-light on","x":323.5,"y":102.5},{"s":"LiK 15:5-light on","x":325.26,"y":102},{"s":"LiK 15:5-light on","x":326.22,"y":107.3},{"s":"LiK 15:5-light on","x":327.18,"y":114},{"s":"LiK 15:5-light on","x":327.91,"y":124},{"s":"LiK 15:5-light on","x":328.63,"y":149},{"s":"LiK 15:5-light on","x":329.06,"y":185.7},{"s":"LiK 15:5-light on","x":329.25,"y":162},{"s":"LiK 15:5-light on","x":329.45,"y":100},{"s":"LiK 15:5-light on","x":329.68,"y":65.7},{"s":"LiK 15:5-light on","x":329.93,"y":19.7},{"s":"LiK 15:5-light on","x":330.2,"y":40},{"s":"LiK 15:5-light on","x":330.55,"y":65.7},{"s":"LiK 15:5-light on","x":331.27,"y":89},{"s":"LiK 15:5-light on","x":332.24,"y":95.7},{"s":"LiK 15:5-light on","x":333.93,"y":99},{"s":"LiK 15:5-light on","x":335,"y":98.5},{"s":"LiK 15:5-light on","x":336.5,"y":99.6},{"s":"LiK 15:5-light on","x":338,"y":98.8},{"s":"LiK 15:5-light on","x":339.5,"y":100.2},{"s":"LiK 15:5-light on","x":341,"y":99.2},{"s":"LiK 15:5-light on","x":342.5,"y":100.5},{"s":"LiK 15:5-light on","x":344,"y":99.3},{"s":"LiK 15:5-light on","x":345.5,"y":100.4},{"s":"LiK 15:5-light on","x":347,"y":99.5},{"s":"LiK 15:5-light on","x":348.5,"y":100.3},{"s":"LiK 15:5-light on","x":350,"y":101}
    ],
    "txt": [
      {"p":"a","k":"head","t":"DMPO-·O₂⁻","x":332.93,"y":190},
      {"p":"a","k":"name","t":"LiNa 13:7","x":324.22,"y":168},
      {"p":"a","k":"name","t":"LiK 15:5","x":324.22,"y":98},
      {"p":"a","k":"name","t":"PCN","x":324.58,"y":41},
      {"p":"a","k":"cond","t":"light on","x":332.8,"y":165.3},
      {"p":"a","k":"cond","t":"dark","x":332.84,"y":137.3},
      {"p":"a","k":"cond","t":"light on","x":332.8,"y":95.3},
      {"p":"a","k":"cond","t":"dark","x":332.84,"y":57.3},
      {"p":"a","k":"cond","t":"light on","x":332.8,"y":41.3},
      {"p":"a","k":"cond","t":"dark","x":332.84,"y":26.3},
      {"p":"b","k":"head","t":"DMPO-·OH","x":332.8,"y":190},
      {"p":"b","k":"name","t":"LiNa 13:7","x":324.18,"y":162},
      {"p":"b","k":"name","t":"LiK 15:5","x":324.18,"y":93},
      {"p":"b","k":"name","t":"PCN","x":324.54,"y":31},
      {"p":"b","k":"cond","t":"light on","x":332.8,"y":161},
      {"p":"b","k":"cond","t":"dark","x":332.8,"y":135},
      {"p":"b","k":"cond","t":"light on","x":332.8,"y":89},
      {"p":"b","k":"cond","t":"dark","x":332.8,"y":50},
      {"p":"b","k":"cond","t":"light on","x":332.8,"y":37},
      {"p":"b","k":"cond","t":"dark","x":332.8,"y":27},
      {"p":"c","k":"name","t":"LiK 15:5","x":324.36,"y":188.3},
      {"p":"c","k":"name","t":"PCN","x":324.58,"y":87},
      {"p":"d","k":"note","t":"g=2.00167","x":323.36,"y":73}
    ],
    "arrow": [{"x":325.74,"y":77.3,"x2":328.87,"y2":99}]
  },
  "concat": [
    {
      "width": 276, "height": 202,
      "title": {"text": "(a)", "dx": -35, "dy": 18},
      "layer": [
        {"data": {"name": "a"},
         "mark": {"type": "line", "strokeWidth": 1.1, "interpolate": "monotone"},
         "encoding": {
           "x": {"field": "x", "type": "quantitative", "scale": {"domain": [324, 334], "nice": false, "zero": false}, "axis": {"title": "Magnetic field (mT)", "values": [324,325,326,327,328,329,330,331,332,333,334], "labelExpr": "datum.value % 2 === 0 ? datum.label : ''"}},
           "y": {"field": "y", "type": "quantitative", "scale": {"domain": [0, 202], "nice": false, "zero": false}, "axis": {"title": "Intensity (a.u.)"}},
           "color": {"field": "s", "type": "nominal", "scale": {"domain": ["LiNa on","LiNa dark","LiK on","LiK dark","PCN on","PCN dark"], "range": ["#8cb752","#dfe79c","#f6d46b","#eaa03c","#b7773b","#5e4126"]}, "legend": null}
         }},
        {"data": {"name": "txt"}, "transform": [{"filter": "datum.p === 'a' && datum.k === 'name'"}],
         "mark": {"type": "text", "align": "left", "baseline": "middle", "fontSize": 10, "color": "#222"},
         "encoding": {"x": {"field": "x", "type": "quantitative"}, "y": {"field": "y", "type": "quantitative"}, "text": {"field": "t"}}},
        {"data": {"name": "txt"}, "transform": [{"filter": "datum.p === 'a' && datum.k === 'cond'"}],
         "mark": {"type": "text", "align": "left", "baseline": "middle", "fontSize": 8.5, "font": "Liberation Serif", "color": "#555"},
         "encoding": {"x": {"field": "x", "type": "quantitative"}, "y": {"field": "y", "type": "quantitative"}, "text": {"field": "t"}}},
        {"data": {"name": "txt"}, "transform": [{"filter": "datum.p === 'a' && datum.k === 'head'"}],
         "mark": {"type": "text", "align": "center", "baseline": "middle", "fontSize": 9.5, "color": "#222"},
         "encoding": {"x": {"field": "x", "type": "quantitative"}, "y": {"field": "y", "type": "quantitative"}, "text": {"field": "t"}}}
      ]
    },
    {
      "width": 276, "height": 202,
      "title": {"text": "(b)", "dx": -35, "dy": 17.5},
      "layer": [
        {"data": {"name": "b"},
         "mark": {"type": "line", "strokeWidth": 1.1, "interpolate": "monotone"},
         "encoding": {
           "x": {"field": "x", "type": "quantitative", "scale": {"domain": [324, 334], "nice": false, "zero": false}, "axis": {"title": "Magnetic field (mT)", "values": [324,325,326,327,328,329,330,331,332,333,334], "labelExpr": "datum.value % 2 === 0 ? datum.label : ''"}},
           "y": {"field": "y", "type": "quantitative", "scale": {"domain": [0, 202], "nice": false, "zero": false}, "axis": {"title": "Intensity (a.u.)"}},
           "color": {"field": "s", "type": "nominal", "scale": {"domain": ["LiNa on","LiNa dark","LiK on","LiK dark","PCN on","PCN dark"], "range": ["#8cb752","#dfe79c","#f6d46b","#eaa03c","#b7773b","#5e4126"]}, "legend": null}
         }},
        {"data": {"name": "txt"}, "transform": [{"filter": "datum.p === 'b' && datum.k === 'name'"}],
         "mark": {"type": "text", "align": "left", "baseline": "middle", "fontSize": 10, "color": "#222"},
         "encoding": {"x": {"field": "x", "type": "quantitative"}, "y": {"field": "y", "type": "quantitative"}, "text": {"field": "t"}}},
        {"data": {"name": "txt"}, "transform": [{"filter": "datum.p === 'b' && datum.k === 'cond'"}],
         "mark": {"type": "text", "align": "left", "baseline": "middle", "fontSize": 8.5, "color": "#444"},
         "encoding": {"x": {"field": "x", "type": "quantitative"}, "y": {"field": "y", "type": "quantitative"}, "text": {"field": "t"}}},
        {"data": {"name": "txt"}, "transform": [{"filter": "datum.p === 'b' && datum.k === 'head'"}],
         "mark": {"type": "text", "align": "center", "baseline": "middle", "fontSize": 9.5, "color": "#222"},
         "encoding": {"x": {"field": "x", "type": "quantitative"}, "y": {"field": "y", "type": "quantitative"}, "text": {"field": "t"}}}
      ]
    },
    {
      "width": 276, "height": 203,
      "title": {"text": "(c)", "dx": -35, "dy": 17},
      "resolve": {"scale": {"color": "independent"}, "legend": {"color": "independent"}},
      "layer": [
        {"data": {"name": "cu"},
         "mark": {"type": "line", "strokeWidth": 1.2, "interpolate": "monotone"},
         "encoding": {
           "x": {"field": "x", "type": "quantitative", "scale": {"domain": [324, 334], "nice": false, "zero": false}, "axis": {"title": "Magnetic field (mT)", "values": [324,325,326,327,328,329,330,331,332,333,334], "labelExpr": "datum.value % 2 === 0 ? datum.label : ''"}},
           "y": {"field": "y", "type": "quantitative", "scale": {"domain": [0, 203], "nice": false, "zero": false}, "axis": {"title": "Intensity (a.u.)", "titleY": 95}},
           "color": {"field": "s", "type": "nominal", "scale": {"domain": ["dark","light on"], "range": ["#555555","#e23b3b"]},
                     "legend": {"title": null, "orient": "none", "legendX": 203, "legendY": 3.5, "symbolType": "M-3,0H3", "symbolSize": 54, "symbolStrokeWidth": 1.5, "symbolOffset": 5.5, "labelFontSize": 11, "labelOffset": 10, "rowPadding": 3, "padding": 0}}
         }},
        {"data": {"name": "cl"},
         "mark": {"type": "line", "strokeWidth": 1.2, "interpolate": "monotone"},
         "encoding": {
           "x": {"field": "x", "type": "quantitative"},
           "y": {"field": "y", "type": "quantitative"},
           "color": {"field": "s", "type": "nominal", "scale": {"domain": ["dark","light on"], "range": ["#555555","#e23b3b"]},
                     "legend": {"title": null, "orient": "none", "legendX": 203, "legendY": 106.5, "symbolType": "M-3,0H3", "symbolSize": 54, "symbolStrokeWidth": 1.5, "symbolOffset": 5.5, "labelFontSize": 11, "labelOffset": 10, "rowPadding": 3, "padding": 0}}
         }},
        {"mark": {"type": "rule", "color": "#222", "strokeWidth": 1}, "encoding": {"y": {"datum": 102}}},
        {"data": {"name": "txt"}, "transform": [{"filter": "datum.p === 'c'"}],
         "mark": {"type": "text", "align": "left", "baseline": "middle", "fontSize": 10, "color": "#222"},
         "encoding": {"x": {"field": "x", "type": "quantitative"}, "y": {"field": "y", "type": "quantitative"}, "text": {"field": "t"}}}
      ]
    },
    {
      "width": 276, "height": 202,
      "title": {"text": "(d)", "dx": -34, "dy": 12.5},
      "layer": [
        {"data": {"name": "d"},
         "mark": {"type": "line", "interpolate": "monotone"},
         "encoding": {
           "x": {"field": "x", "type": "quantitative", "scale": {"domain": [310, 350], "nice": false, "zero": false}, "axis": {"title": "Magnetic field (mT)", "values": [310,315,320,325,330,335,340,345,350], "labelExpr": "datum.value % 10 === 0 ? datum.label : ''"}},
           "y": {"field": "y", "type": "quantitative", "scale": {"domain": [0, 202], "nice": false, "zero": false}, "axis": {"title": "Intensity (a.u.)", "titlePadding": 6}},
           "color": {"field": "s", "type": "nominal", "scale": {"domain": ["PCN-dark","PCN-light on","LiK 15:5-dark","LiK 15:5-light on"], "range": ["#3f3f3f","#cfcfcf","#d24d4d","#f3a5a5"]},
                     "legend": {"title": null, "orient": "none", "legendX": 165, "legendY": 6, "symbolType": "M-4,0H4", "symbolSize": 46, "symbolStrokeWidth": 1.8, "symbolOffset": 5, "labelFontSize": 10.5, "labelOffset": 11, "rowPadding": -1, "padding": 0}},
           "strokeWidth": {"field": "s", "type": "nominal", "scale": {"domain": ["PCN-dark","PCN-light on","LiK 15:5-dark","LiK 15:5-light on"], "range": [1.3, 1.2, 2, 1.5]}, "legend": null}
         }},
        {"data": {"name": "arrow"}, "mark": {"type": "rule", "color": "#333", "strokeWidth": 0.8},
         "encoding": {"x": {"field": "x", "type": "quantitative"}, "y": {"field": "y", "type": "quantitative"}, "x2": {"field": "x2"}, "y2": {"field": "y2"}}},
        {"data": {"name": "arrow"}, "mark": {"type": "point", "shape": "triangle-right", "angle": 315, "size": 18, "filled": true, "color": "#222", "opacity": 1},
         "encoding": {"x": {"field": "x2", "type": "quantitative"}, "y": {"field": "y2", "type": "quantitative"}}},
        {"data": {"name": "txt"}, "transform": [{"filter": "datum.p === 'd'"}],
         "mark": {"type": "text", "align": "center", "baseline": "middle", "fontSize": 11.5, "font": "Liberation Serif", "color": "#222"},
         "encoding": {"x": {"field": "x", "type": "quantitative"}, "y": {"field": "y", "type": "quantitative"}, "text": {"field": "t"}}}
      ]
    }
  ]
}
